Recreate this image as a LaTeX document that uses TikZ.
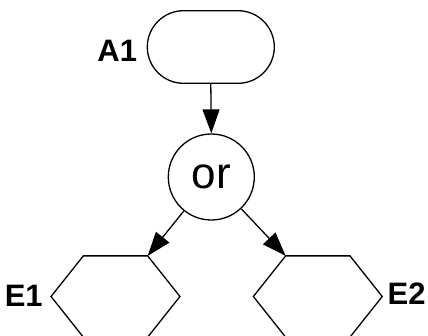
\documentclass[tikz,border=0pt]{standalone}
\usepackage{fontspec}
\setmainfont{Liberation Sans}
\usetikzlibrary{shapes.misc, positioning}
\usetikzlibrary{arrows.meta}
\tikzset{>={Triangle[width=17pt,length=24pt]}}

\begin{document}
\begin{tikzpicture}[x=1pt, y=-1pt, line width=1.3pt, startnode/.style={rounded rectangle, draw=black, minimum width=127pt, minimum height=72.6pt, inner sep=0pt}, ornode/.style={circle, draw=black, minimum size=86pt, inner sep=0pt, font=\fontsize{44}{52}\selectfont}, endnode/.style={draw=none, minimum width=63pt, minimum height=80pt, inner sep=0pt}, labelnode/.style={draw=none, inner sep=0pt, font=\fontsize{31}{37}\selectfont\bfseries}]

    \useasboundingbox (0,0) rectangle (428,335);

    %Nodes
    \node[startnode](a1) at (210.8,47){};
    \node[ornode](or) at (211.3,177){or};
    \node[endnode](e1) at (115.5,296.5){};
    \node[endnode](e2) at (317.8,296.5){};
    \node[labelnode](a1_text)[left=9pt of a1, yshift=-4pt]{A1};
    \node[labelnode](e1_text)[left=40pt of e1, yshift=1pt]{E1};
    \node[labelnode](e2_text)[right=37pt of e2, yshift=3pt]{E2};

    %Hexagons
    \draw (e1.north west) -- (e1.north east) -- ([xshift=32.3pt]e1.east) -- (e1.south east) -- (e1.south west) -- ([xshift=-32.3pt]e1.west) -- cycle;
    \draw (e2.north west) -- (e2.north east) -- ([xshift=32.3pt]e2.east) -- (e2.south east) -- (e2.south west) -- ([xshift=-32.3pt]e2.west) -- cycle;

    %Lines
    \draw[->] (a1.south) -- (or.north);
    \draw[->] (or) -- (e1.north east);
    \draw[->] (or) -- (e2.north west);

\end{tikzpicture}
\end{document}
